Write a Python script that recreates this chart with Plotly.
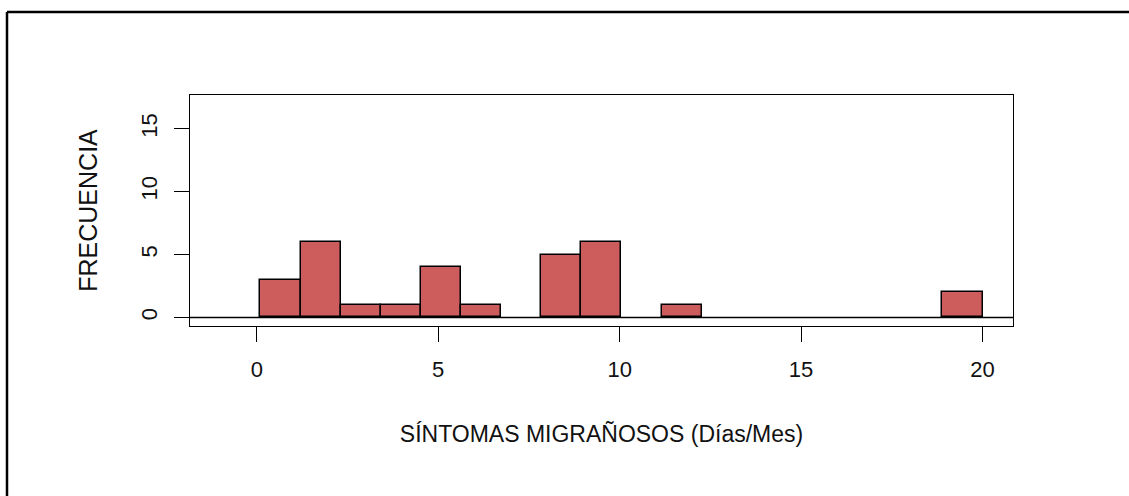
import numpy as np
import plotly.graph_objects as go

# Histogram data
counts = [3, 6, 1, 1, 4, 1, 0, 5, 6, 0, 1, 0, 0, 0, 0, 0, 0, 2]
bin_low = 0.1
bin_high = 20.0
x_ticks = [0, 5, 10, 15, 20]
y_ticks = [0, 5, 10, 15]
x_title = "SÍNTOMAS MIGRAÑOSOS (Días/Mes)"
y_title = "FRECUENCIA"

edges = np.linspace(bin_low, bin_high, len(counts) + 1)
centers = (edges[:-1] + edges[1:]) / 2
widths = np.diff(edges)
outline_w = [1.5 if c > 0 else 0 for c in counts]

W, H = 1129, 496
L, R, T, B = 190, 116, 95, 170
pw, ph = W - L - R, H - T - B

fig = go.Figure()
fig.add_trace(go.Bar(
    x=centers, y=counts, width=widths,
    marker=dict(color="#CD5C5C", line=dict(color="black", width=outline_w)),
    hoverinfo="x+y",
))

font = "Liberation Sans, Arial, sans-serif"
txt = "#111111"
fig.update_layout(
    width=W, height=H,
    margin=dict(l=L, r=R, t=T, b=B, pad=0),
    paper_bgcolor="white", plot_bgcolor="white",
    showlegend=False,
    font=dict(family=font, color=txt),
    bargap=0,
)
fig.update_xaxes(
    range=[-1.84, 20.84], tickvals=x_ticks, ticktext=[str(v) for v in x_ticks],
    showgrid=False, zeroline=False,
    showline=True, mirror=True, linecolor="black", linewidth=1,
    ticks="outside", ticklen=15, tickwidth=1, tickcolor="black",
    ticklabelstandoff=9,
    tickfont=dict(size=22, family=font, color=txt),
    title=dict(text=x_title, font=dict(size=23, family=font, color=txt), standoff=44),
)
fig.update_yaxes(
    range=[-0.68, 17.68], tickvals=y_ticks, ticktext=[str(v) for v in y_ticks],
    showgrid=False, zeroline=False,
    showline=True, mirror=True, linecolor="black", linewidth=1,
    ticks="outside", ticklen=15, tickwidth=1, tickcolor="black",
    tickangle=-90, ticklabelstandoff=8,
    tickfont=dict(size=22, family=font, color=txt),
    title=dict(text=y_title, font=dict(size=25, family=font, color=txt), standoff=32),
)

# baseline at y = 0 across the plotting region
fig.add_shape(type="line", xref="paper", yref="y", x0=0, x1=1, y0=0, y1=0,
              line=dict(color="black", width=1.5))

# outer frame (top and left edges visible in the original)
def px_to_paper_x(px):
    return (px - L) / pw

def px_to_paper_y(py):
    return (H - B - py) / ph

fx = px_to_paper_x(7)
fy = px_to_paper_y(12)
fig.add_shape(type="line", xref="paper", yref="paper",
              x0=fx, x1=px_to_paper_x(W + 5), y0=fy, y1=fy,
              line=dict(color="black", width=2.5))
fig.add_shape(type="line", xref="paper", yref="paper",
              x0=fx, x1=fx, y0=fy, y1=px_to_paper_y(H + 5),
              line=dict(color="black", width=2.5))

fig.write_html("out.html")
